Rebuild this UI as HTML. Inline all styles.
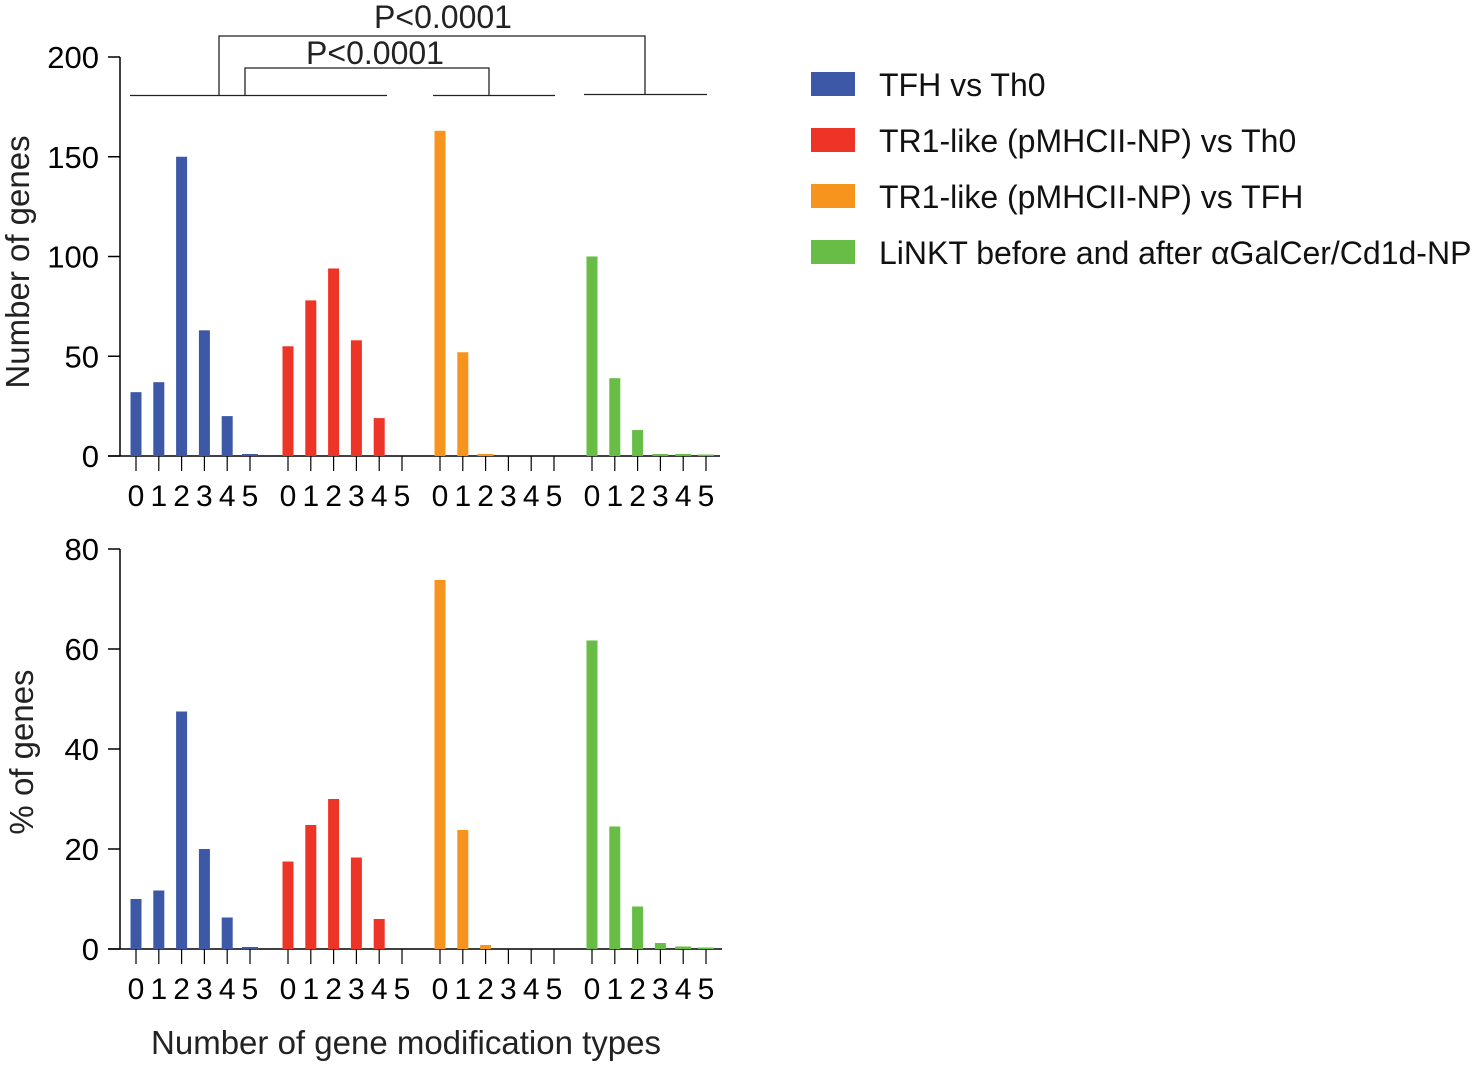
<!DOCTYPE html>
<html><head><meta charset="utf-8"><style>
html,body{margin:0;padding:0;background:#fff;}
svg{display:block;font-family:"Liberation Sans",Arial,sans-serif;}
</style></head><body>
<svg id="chart" width="1476" height="1065" viewBox="0 0 1476 1065"></svg>
<script>
const series = ["TFH vs Th0","TR1-like (pMHCII-NP) vs Th0","TR1-like (pMHCII-NP) vs TFH","LiNKT before and after \u03b1GalCer/Cd1d-NP"];
const colors = ["#3d58a7","#ee3427","#f7941d","#67bd45"];
const categories = ["0","1","2","3","4","5"];
const countBlue = [32,37,150,63,20,1];
const countRed = [55,78,94,58,19,0];
const countOrange = [163,52,1,0,0,0];
const countGreen = [100,39,13,1,1,0.5];
const pctBlue = [10,11.7,47.5,20,6.3,0.4];
const pctRed = [17.5,24.8,30,18.3,6,0];
const pctOrange = [73.8,23.8,0.8,0,0,0];
const pctGreen = [61.7,24.5,8.5,1.2,0.5,0.3];
const topTicks = [0,50,100,150,200];
const bottomTicks = [0,20,40,60,80];

const NS="http://www.w3.org/2000/svg";
const svg=document.getElementById('chart');
function mk(tag,attrs,parent){const e=document.createElementNS(NS,tag);for(const k in attrs)e.setAttribute(k,attrs[k]);(parent||svg).appendChild(e);return e;}
function xPos(g,i){return 136+g*152+i*22.8;}

function panel(name,y0,yTop,maxV,ticks,data,axisEnd,title,titleX,titleY){
  const g=mk('g',{});
  
  
  const yS=v=>y0-(v/maxV)*(y0-yTop);
  const ax=mk('line',{x1:120,y1:yTop,x2:120,y2:y0,stroke:'#000','stroke-width':1.5},g);
  
  
  const xa=mk('line',{x1:108,y1:y0,x2:axisEnd,y2:y0,stroke:'#000','stroke-width':1.5},g);
  
  
  ticks.forEach(t=>{
    mk('line',{x1:108,y1:yS(t),x2:120,y2:yS(t),stroke:'#000','stroke-width':1.5},g);
    const tx=mk('text',{x:99,y:yS(t)+11,'text-anchor':'end','font-size':31,fill:'#000'},g);
    tx.textContent=t;
    
    
  });
  data.forEach((arr,gi)=>{
    arr.forEach((v,i)=>{
      const x=xPos(gi,i);
      mk('line',{x1:x,y1:y0,x2:x,y2:y0+15,stroke:'#000','stroke-width':1.2},g);
      const h=Math.max((v/maxV)*(y0-yTop),0);
      if(v>0){
        const w = h<4 ? 16 : 11;
        const b=mk('rect',{x:x-w/2,y:y0-Math.max(h,1.5),width:w,height:Math.max(h,1.5),fill:colors[gi]},g);
        
        
      }
      const lb=mk('text',{x:x,y:y0+50,'text-anchor':'middle','font-size':30,fill:'#000'},g);
      lb.textContent=categories[i];
      
      
    });
  });
  const tt=mk('text',{x:titleX,y:titleY,'text-anchor':'middle','font-size':33,fill:'#222',transform:`rotate(-90 ${titleX} ${titleY})`},g);
  tt.textContent=title;
  
  
}
panel('top-panel',456,57,200,topTicks,[countBlue,countRed,countOrange,countGreen],720,'Number of genes',29,262);
panel('bottom-panel',949,549,80,bottomTicks,[pctBlue,pctRed,pctOrange,pctGreen],722,'% of genes',33,752);

const br=mk('g',{stroke:'#222','stroke-width':1.3,fill:'none'});


mk('line',{x1:130,y1:95.5,x2:387,y2:95.5},br);
mk('line',{x1:433,y1:95.5,x2:555,y2:95.5},br);
mk('line',{x1:584,y1:94.5,x2:707,y2:94.5},br);
mk('polyline',{points:'245,95 245,68 489,68 489,95'},br);
mk('polyline',{points:'219,95 219,36 645,36 645,94'},br);
[[375,64],[443,28]].forEach(p=>{
  const t=mk('text',{x:p[0],y:p[1],'text-anchor':'middle','font-size':32,fill:'#222'});
  t.textContent='P<0.0001';
  
  
});

const xt=mk('text',{x:406,y:1054,'text-anchor':'middle','font-size':33,fill:'#222'});
xt.textContent='Number of gene modification types';



series.forEach((s,i)=>{
  const cy=84+i*56;
  const g=mk('g',{});
  
  
  mk('rect',{x:811,y:cy-12,width:44,height:24,fill:colors[i]},g);
  const t=mk('text',{x:879,y:cy+12,'font-size':32,fill:'#111'},g);
  t.textContent=s;
});
</script>
</body></html>
